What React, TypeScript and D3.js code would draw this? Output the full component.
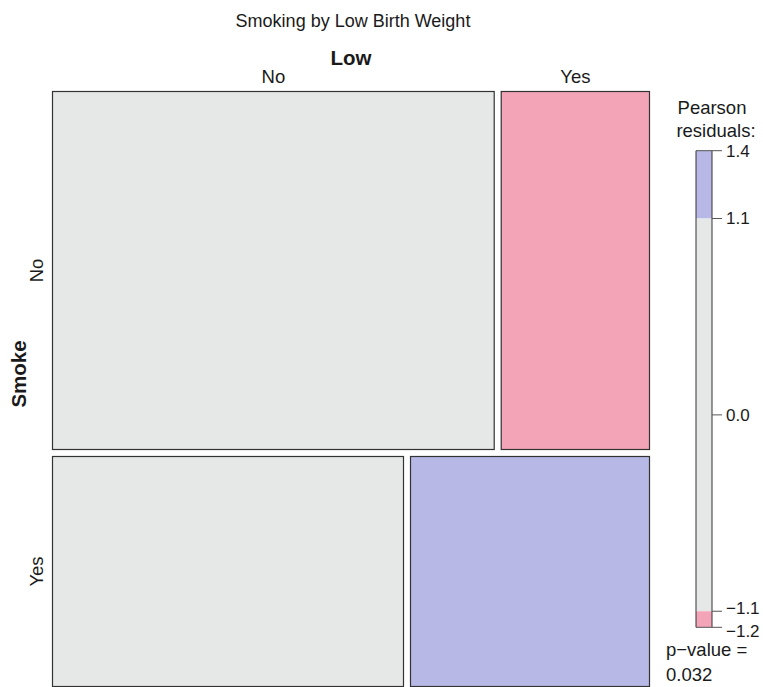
import React from "react";
import * as d3 from "d3";

const title = "Smoking by Low Birth Weight";
const rowVar = "Smoke";
const colVar = "Low";
const rowLevels = ["No", "Yes"];
const colLevels = ["No", "Yes"];
// counts[row][col]
const countsNo = [86, 29];
const countsYes = [44, 30];
const counts = [countsNo, countsYes];

const legendMin = -1.19;
const legendMax = 1.48;
const cutoff = 1.1;
const legendTickValues = [1.48, 1.1, 0, -1.1, -1.19];
const legendTickLabels = ["1.4", "1.1", "0.0", "\u22121.1", "\u22121.2"];
const pValueText = "0.032";

const GRAY = "#E6E8E7";
const PINK = "#F3A5B7";
const BLUE = "#B7B8E6";

export default function App() {
  const W = 763;
  const H = 687;
  const left = 52, right = 650, top = 91, bottom = 687;
  const gap = 6;
  const font = "'Liberation Sans', Arial, Helvetica, sans-serif";
  const textCol = "#1a1a1a";

  const total = d3.sum(counts.flat());
  const rowTotals = counts.map((r) => d3.sum(r));
  const colTotals = colLevels.map((_, j) => d3.sum(counts, (r) => r[j]));

  const availH = bottom - top - gap * (rowLevels.length - 1);
  const yScale = d3.scaleLinear().domain([0, total]).range([0, availH]);
  const cumRow = d3.cumsum(rowTotals);

  const cells: any[] = [];
  counts.forEach((row, i) => {
    const y0 = top + yScale(i === 0 ? 0 : cumRow[i - 1]) + gap * i;
    const h = yScale(rowTotals[i]);
    const availW = right - left - gap * (colLevels.length - 1);
    const xScale = d3.scaleLinear().domain([0, rowTotals[i]]).range([0, availW]);
    const cumCol = d3.cumsum(row);
    row.forEach((n, j) => {
      const x0 = left + xScale(j === 0 ? 0 : cumCol[j - 1]) + gap * j;
      const w = xScale(n);
      const expected = (rowTotals[i] * colTotals[j]) / total;
      const res = (n - expected) / Math.sqrt(expected);
      const fill = res > cutoff ? BLUE : res < -cutoff ? PINK : GRAY;
      cells.push({ i, j, x0, y0, w, h, fill });
    });
  });

  const rowCells = cells.filter((c) => c.j === 0);
  const colCells = cells.filter((c) => c.i === 0);

  const lx0 = 696, lx1 = 712;
  const ly = d3.scaleLinear().domain([legendMin, legendMax]).range([627.3, 150.7]);
  const legendSegs = [
    { a: cutoff, b: legendMax, fill: BLUE },
    { a: -cutoff, b: cutoff, fill: GRAY },
    { a: legendMin, b: -cutoff, fill: PINK },
  ];

  return (
    <svg
      width={W}
      height={H}
      style={{ position: "absolute", left: 0, top: 0, display: "block", background: "#fff" }}
      fontFamily={font}
    >
      <rect x={0} y={0} width={W} height={H} fill="#fff" />
      <text x={353} y={27} textAnchor="middle" fontSize={18} fill={textCol}>
        {title}
      </text>
      <text x={351} y={65} textAnchor="middle" fontSize={20.5} fontWeight="bold" fill={textCol}>
        {colVar}
      </text>
      {colCells.map((c) => (
        <text key={"cl" + c.j} x={c.x0 + c.w / 2} y={83} textAnchor="middle" fontSize={18.5} fill={textCol}>
          {colLevels[c.j]}
        </text>
      ))}
      <text
        transform={`translate(26,374) rotate(-90)`}
        textAnchor="middle"
        fontSize={20.5}
        fontWeight="bold"
        fill={textCol}
      >
        {rowVar}
      </text>
      {rowCells.map((c) => (
        <text
          key={"rl" + c.i}
          transform={`translate(43,${c.y0 + c.h / 2}) rotate(-90)`}
          textAnchor="middle"
          fontSize={18.5}
          fill={textCol}
        >
          {rowLevels[c.i]}
        </text>
      ))}
      {cells.map((c) => (
        <rect
          key={`c${c.i}${c.j}`}
          x={c.x0 + 0.5}
          y={c.y0 + 0.5}
          width={c.w - 1}
          height={c.h - 1}
          fill={c.fill}
          stroke="#333"
          strokeWidth={1.2}
        />
      ))}
      {/* legend */}
      <text x={712} y={114} textAnchor="middle" fontSize={18.5} fill={textCol}>
        Pearson
      </text>
      <text x={716} y={137} textAnchor="middle" fontSize={18.5} fill={textCol}>
        residuals:
      </text>
      {legendSegs.map((s, k) => (
        <rect key={"ls" + k} x={lx0} y={ly(s.b)} width={lx1 - lx0} height={ly(s.a) - ly(s.b)} fill={s.fill} />
      ))}
      <line x1={lx0} x2={lx0} y1={ly(legendMax)} y2={ly(legendMin)} stroke="#333" strokeWidth={1} />
      <line x1={lx1} x2={lx1} y1={ly(legendMax)} y2={ly(legendMin)} stroke="#333" strokeWidth={1} />
      {legendTickValues.map((v, k) => (
        <g key={"lt" + k}>
          <line x1={k === 0 || k === legendTickValues.length - 1 ? lx0 : lx1} x2={722} y1={ly(v)} y2={ly(v)} stroke="#555" strokeWidth={1} />
          <text
            x={726}
            y={ly(v) + (k === 3 ? -3 : k === 4 ? 4 : 0)}
            dy="0.35em"
            fontSize={17}
            fill={textCol}
          >
            {legendTickLabels[k]}
          </text>
        </g>
      ))}
      <text x={666} y={656} fontSize={18.5} fill={textCol}>
        p{"\u2212"}value =
      </text>
      <text x={666} y={681} fontSize={18.5} fill={textCol}>
        {pValueText}
      </text>
    </svg>
  );
}
